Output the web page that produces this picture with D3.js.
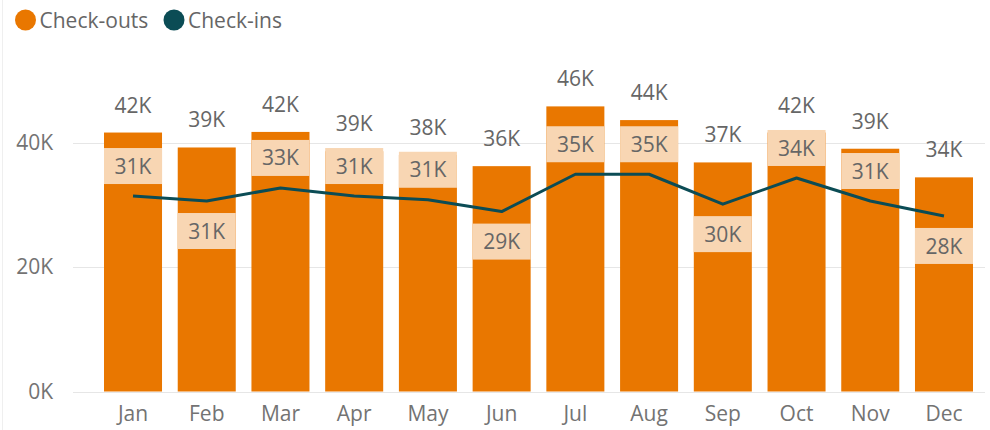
<!DOCTYPE html>
<html>
<head>
<meta charset="utf-8">
<script src="https://cdn.jsdelivr.net/npm/d3@7"></script>
<style>
  html, body { margin: 0; padding: 0; background: #ffffff; }
  svg { display: block; font-family: "Open Sans", "Segoe UI", sans-serif; }
</style>
</head>
<body>
<svg id="chart" width="990" height="430"></svg>
<script>
const months = ["Jan","Feb","Mar","Apr","May","Jun","Jul","Aug","Sep","Oct","Nov","Dec"];
const checkOuts = [41600, 39200, 41700, 38600, 38000, 36200, 45800, 43600, 36800, 41600, 39000, 34400];
const checkIns  = [31400, 30600, 32700, 31400, 30800, 28900, 34900, 34900, 30100, 34300, 30600, 28200];
const checkInLabelSide = ["above","below","above","above","above","below","above","above","below","above","above","below"];
const yTicks = [0, 20000, 40000];
const seriesNames = ["Check-outs", "Check-ins"];

const barColor = "#E97700";
const lineColor = "#0B4C55";
const labelBg = "#F8D6B3";
const textColor = "#666666";
const axisColor = "#737373";
const fs = "21px";

const svg = d3.select("#chart");

// left boundary
svg.append("line").attr("x1", 2.5).attr("x2", 2.5).attr("y1", 0).attr("y2", 430)
  .attr("stroke", "#EFEFEF").attr("stroke-width", 1);

const x = d3.scaleBand().domain(months).range([104, 973]).paddingInner(0.213).paddingOuter(0);
const y = d3.scaleLinear().domain([0, 50000]).range([391.5, 80.25]);

const fmt = v => Math.round(v / 1000) + "K";

// gridlines
svg.append("g").selectAll("line").data(yTicks).join("line")
  .attr("x1", 73).attr("x2", 985)
  .attr("y1", d => Math.round(y(d)) + 0.5).attr("y2", d => Math.round(y(d)) + 0.5)
  .attr("stroke", "#E6E6E6").attr("stroke-width", 1);

// y axis labels
const yAxis = d3.axisLeft(y).tickValues(yTicks).tickFormat(fmt).tickSize(0).tickPadding(0);
const yG = svg.append("g").attr("transform", "translate(53,0)").call(yAxis);
yG.select(".domain").remove();
yG.selectAll("text").attr("fill", axisColor).style("font-size", fs).style("font-family", "'Open Sans', sans-serif");

// x axis labels
const xAxis = d3.axisBottom(x).tickSize(0).tickPadding(0);
const xG = svg.append("g").attr("transform", "translate(0,406)").call(xAxis);
xG.select(".domain").remove();
xG.selectAll("text").attr("fill", axisColor).style("font-size", fs).style("font-family", "'Open Sans', sans-serif").attr("dy", "0.71em");

// bars
svg.append("g").selectAll("rect").data(checkOuts).join("rect")
  .attr("x", (d, i) => x(months[i]))
  .attr("width", x.bandwidth())
  .attr("y", d => y(d))
  .attr("height", d => y(0) - y(d))
  .attr("fill", barColor);

// bar total labels
svg.append("g").selectAll("text").data(checkOuts).join("text")
  .attr("x", (d, i) => x(months[i]) + x.bandwidth() / 2)
  .attr("y", d => y(d) - 20)
  .attr("text-anchor", "middle")
  .attr("fill", textColor)
  .style("font-size", fs)
  .text(d => fmt(d));

// line
const cx = i => x(months[i]) + x.bandwidth() / 2;
const line = d3.line().x((d, i) => cx(i)).y(d => y(d));
svg.append("path").datum(checkIns)
  .attr("d", line)
  .attr("fill", "none")
  .attr("stroke", lineColor)
  .attr("stroke-width", 3)
  .attr("stroke-linejoin", "round");

// check-in labels with background
const boxH = 36, gap = 12;
const lab = svg.append("g").selectAll("g").data(checkIns).join("g")
  .attr("transform", (d, i) => {
    const top = checkInLabelSide[i] === "above" ? y(d) - gap - boxH : y(d) + gap;
    return `translate(${x(months[i])},${top})`;
  });
lab.append("rect").attr("width", x.bandwidth()).attr("height", boxH).attr("fill", labelBg);
lab.append("text")
  .attr("x", x.bandwidth() / 2).attr("y", boxH / 2)
  .attr("dy", "0.36em")
  .attr("text-anchor", "middle")
  .attr("fill", textColor)
  .style("font-size", fs)
  .text(d => fmt(d));

// legend
const legendX = [25.5, 174];
const legendColors = [barColor, lineColor];
const lg = svg.append("g").selectAll("g").data(seriesNames).join("g")
  .attr("transform", (d, i) => `translate(${legendX[i]},20)`);
lg.append("circle").attr("r", 10.5).attr("fill", (d, i) => legendColors[i]);
lg.append("text").attr("x", 14).attr("dy", "0.36em")
  .attr("fill", textColor).style("font-size", fs).text(d => d);
</script>
</body>
</html>
